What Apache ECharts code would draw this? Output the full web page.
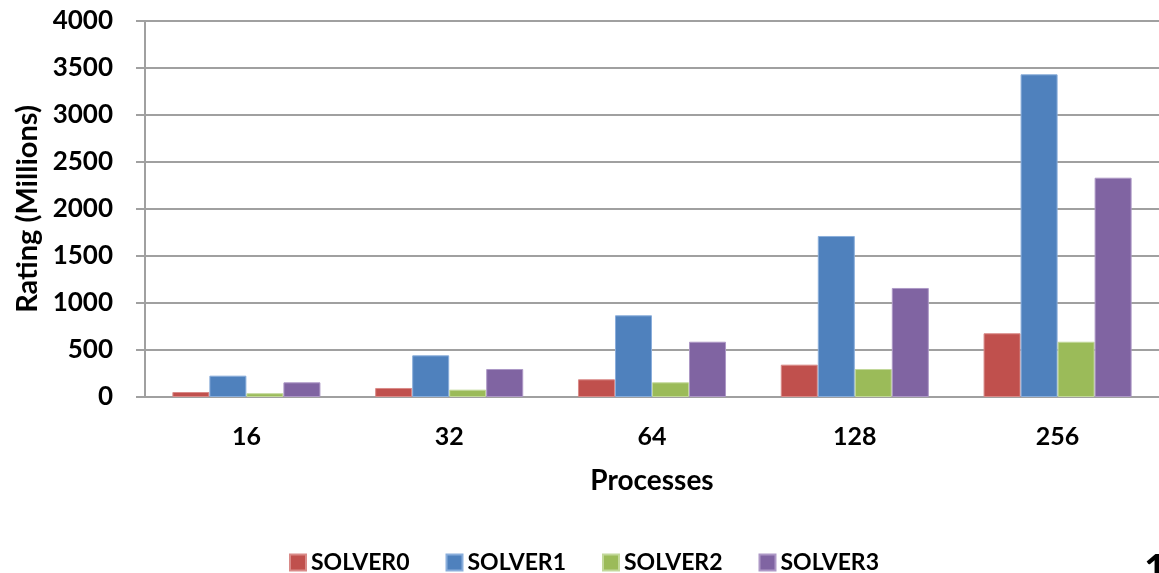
<!DOCTYPE html>
<html>
<head>
<meta charset="utf-8">
<script src="https://cdn.jsdelivr.net/npm/echarts@6/dist/echarts.min.js"></script>
<style>
  html, body { margin: 0; padding: 0; background: #ffffff; overflow: hidden; }
  #chart { width: 1159px; height: 573px; }
</style>
</head>
<body>
<div id="chart"></div>
<script>
// Process counts on the x axis
const processes = ['16', '32', '64', '128', '256'];

// Rating (millions) per solver
const solver0 = [53, 96, 188, 344, 678];
const solver1 = [227, 443, 869, 1713, 3433];
const solver2 = [40, 78, 156, 298, 588];
const solver3 = [156, 298, 588, 1160, 2333];

const seriesNames = ['SOLVER0', 'SOLVER1', 'SOLVER2', 'SOLVER3'];
const seriesValues = [solver0, solver1, solver2, solver3];
const colors = ['#C0504D', '#4F81BD', '#9BBB59', '#8064A2'];
const edges = ['#d98a88', '#8aaedb', '#c2d89a', '#ad98c6'];

const FONT = 'Lato, "Open Sans", sans-serif';

const chart = echarts.init(document.getElementById('chart'));

chart.setOption({
  backgroundColor: '#ffffff',
  animation: false,
  grid: { left: 145, top: 21, width: 1025, height: 376, containLabel: false },
  legend: {
    top: 546,
    left: 284,
    itemWidth: 16,
    itemHeight: 16,
    itemGap: 36,
    icon: 'rect',
    textStyle: { fontFamily: FONT, fontWeight: 'bold', fontSize: 23, color: '#000', padding: [0, 0, 0, 0] },
    data: seriesNames
  },
  xAxis: {
    type: 'category',
    data: processes,
    name: 'Processes',
    nameLocation: 'middle',
    nameGap: 70,
    nameTextStyle: { fontFamily: FONT, fontWeight: 'bold', fontSize: 28, color: '#000' },
    axisLine: { lineStyle: { color: '#a0a0a0', width: 2 } },
    axisTick: { show: false },
    axisLabel: { fontFamily: FONT, fontWeight: 'bold', fontSize: 25, color: '#000', margin: 27 }
  },
  yAxis: {
    type: 'value',
    min: 0,
    max: 4000,
    interval: 500,
    name: 'Rating (Millions)',
    nameLocation: 'middle',
    nameGap: 102,
    nameRotate: 90,
    nameTextStyle: { fontFamily: FONT, fontWeight: 'bold', fontSize: 29, color: '#000' },
    axisLine: { show: true, lineStyle: { color: '#a0a0a0', width: 2 } },
    axisTick: { show: true, length: 9, lineStyle: { color: '#a0a0a0', width: 2 } },
    splitLine: { lineStyle: { color: '#a0a0a0', width: 2 } },
    axisLabel: {
      fontFamily: FONT, fontWeight: 'bold', fontSize: 26, color: '#000', margin: 32,
      formatter: (v) => String(v)
    }
  },
  series: seriesNames.map((name, i) => ({
    name: name,
    type: 'bar',
    data: seriesValues[i],
    barGap: '0%',
    barCategoryGap: '27%',
    itemStyle: { color: colors[i], borderColor: edges[i], borderWidth: 1 }
  })),
  graphic: [{
    type: 'text',
    left: 1144,
    top: 550,
    style: { text: '1', fontFamily: FONT, fontWeight: 'bold', fontSize: 40, fill: '#000' }
  }]
});
</script>
</body>
</html>
